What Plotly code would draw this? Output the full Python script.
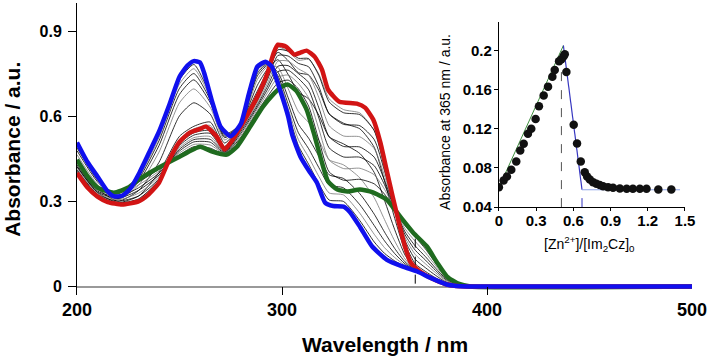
import plotly.graph_objects as go

# ---- main spectra (wavelength in nm, absorbance in a.u.) ----
BLUE_WL = [200, 205, 210, 215, 218, 222, 226, 230, 235, 240, 245, 250, 254, 257, 260, 262, 266, 270, 275,
           280, 284, 288, 292, 295, 299, 303, 305, 309, 313, 317, 321, 325, 330, 333, 338, 344, 351, 359,
           366, 372, 380, 385, 390, 500]
BLUE_ABS = [0.508, 0.44, 0.388, 0.335, 0.318, 0.32, 0.345, 0.395, 0.47, 0.546, 0.64, 0.74, 0.78, 0.795, 0.79,
            0.754, 0.65, 0.564, 0.53, 0.575, 0.684, 0.776, 0.793, 0.776, 0.694, 0.60, 0.535, 0.458, 0.41,
            0.367, 0.296, 0.284, 0.282, 0.264, 0.211, 0.141, 0.095, 0.07, 0.053, 0.032, 0.008, 0.002, 0.0, 0.0]

RED_WL = [200, 205, 210, 215, 222, 230, 235, 240, 245, 250, 255, 260, 263, 268, 272, 276, 281, 288, 293, 296,
          298, 302, 306, 309, 312, 316, 319.5, 322.5, 328, 336.5, 340.5, 344.5, 348, 351, 354, 357.5, 360,
          362.5, 366, 370, 375, 380, 385, 390, 500]
RED_ABS = [0.40, 0.35, 0.317, 0.298, 0.289, 0.30, 0.325, 0.366, 0.447, 0.51, 0.543, 0.556, 0.564, 0.53, 0.483,
           0.518, 0.578, 0.67, 0.754, 0.825, 0.853, 0.846, 0.818, 0.825, 0.832, 0.81, 0.765, 0.694, 0.652,
           0.645, 0.631, 0.589, 0.508, 0.412, 0.317, 0.211, 0.141, 0.088, 0.06, 0.04, 0.022, 0.008, 0.002,
           0.0, 0.0]

GREEN_WL = [200, 205, 210, 218, 225, 230, 240, 250, 260, 266, 273, 278, 284.5, 290.7, 295.6, 300, 303, 307,
            312, 316, 319.5, 322.5, 327, 332, 338, 344, 351, 357.6, 364, 370.7, 375.6, 380.5, 386, 392, 500]
GREEN_ABS = [0.447, 0.39, 0.349, 0.331, 0.349, 0.377, 0.42, 0.458, 0.493, 0.476, 0.465, 0.493, 0.564, 0.634,
             0.677, 0.705, 0.712, 0.69, 0.624, 0.529, 0.437, 0.37, 0.342, 0.335, 0.342, 0.333, 0.307, 0.247,
             0.19, 0.141, 0.085, 0.035, 0.01, 0.0, 0.0]

# intermediate titration spectra, all on one wavelength grid
GRID_WL = [200, 210, 220, 230, 240, 250, 257, 265, 272, 280, 288, 293, 298, 303, 308, 313, 318, 323, 330,
           338, 345, 350, 355, 360, 365, 370, 375, 380, 390, 500]
# first stage (0 -> 0.5 eq)
STAGE1 = [
    [0.503, 0.384, 0.317, 0.390, 0.537, 0.729, 0.783, 0.674, 0.537, 0.575, 0.765, 0.788, 0.727, 0.612, 0.497,
     0.431, 0.362, 0.305, 0.300, 0.232, 0.157, 0.117, 0.090, 0.071, 0.056, 0.040, 0.022, 0.008, 0.0, 0.0],
    [0.496, 0.380, 0.315, 0.385, 0.526, 0.715, 0.768, 0.667, 0.534, 0.575, 0.759, 0.786, 0.735, 0.627, 0.518,
     0.456, 0.388, 0.330, 0.323, 0.258, 0.184, 0.137, 0.102, 0.075, 0.056, 0.040, 0.022, 0.008, 0.0, 0.0],
    [0.489, 0.375, 0.313, 0.378, 0.514, 0.699, 0.751, 0.658, 0.530, 0.575, 0.752, 0.784, 0.744, 0.644, 0.542,
     0.486, 0.419, 0.358, 0.348, 0.288, 0.215, 0.161, 0.116, 0.080, 0.057, 0.040, 0.022, 0.008, 0.0, 0.0],
    [0.479, 0.369, 0.310, 0.369, 0.497, 0.678, 0.729, 0.648, 0.525, 0.575, 0.743, 0.780, 0.756, 0.666, 0.572,
     0.523, 0.459, 0.394, 0.381, 0.327, 0.255, 0.192, 0.134, 0.087, 0.058, 0.040, 0.022, 0.008, 0.0, 0.0],
    [0.465, 0.360, 0.307, 0.357, 0.474, 0.648, 0.697, 0.632, 0.517, 0.575, 0.730, 0.776, 0.773, 0.698, 0.617,
     0.578, 0.516, 0.447, 0.429, 0.383, 0.313, 0.236, 0.160, 0.097, 0.059, 0.040, 0.022, 0.008, 0.0, 0.0],
    [0.443, 0.345, 0.301, 0.338, 0.438, 0.602, 0.648, 0.608, 0.506, 0.575, 0.710, 0.768, 0.800, 0.748, 0.685,
     0.662, 0.604, 0.528, 0.503, 0.469, 0.402, 0.304, 0.200, 0.111, 0.061, 0.040, 0.022, 0.008, 0.0, 0.0],
    [0.422, 0.331, 0.296, 0.319, 0.402, 0.530, 0.565, 0.580, 0.494, 0.575, 0.690, 0.761, 0.826, 0.797, 0.754,
     0.746, 0.692, 0.609, 0.576, 0.556, 0.491, 0.372, 0.240, 0.126, 0.063, 0.040, 0.022, 0.008, 0.0, 0.0],
    [0.408, 0.322, 0.292, 0.307, 0.379, 0.515, 0.556, 0.568, 0.487, 0.575, 0.677, 0.757, 0.844, 0.829, 0.798,
     0.801, 0.749, 0.662, 0.624, 0.612, 0.549, 0.416, 0.266, 0.136, 0.064, 0.040, 0.022, 0.008, 0.0, 0.0],
]
# second stage (0.5 -> 1.4 eq)
STAGE2 = [
    [0.406, 0.321, 0.295, 0.309, 0.373, 0.504, 0.542, 0.550, 0.481, 0.568, 0.663, 0.743, 0.835, 0.830, 0.805,
     0.804, 0.744, 0.651, 0.613, 0.606, 0.550, 0.424, 0.279, 0.151, 0.080, 0.053, 0.030, 0.012, 0.0, 0.0],
    [0.412, 0.325, 0.301, 0.319, 0.380, 0.497, 0.534, 0.540, 0.479, 0.561, 0.655, 0.731, 0.815, 0.813, 0.787,
     0.775, 0.705, 0.609, 0.572, 0.567, 0.518, 0.408, 0.278, 0.162, 0.096, 0.066, 0.039, 0.016, 0.001, 0.0],
    [0.418, 0.329, 0.306, 0.329, 0.387, 0.490, 0.525, 0.529, 0.477, 0.554, 0.647, 0.718, 0.795, 0.795, 0.768,
     0.746, 0.666, 0.567, 0.531, 0.528, 0.486, 0.391, 0.276, 0.173, 0.113, 0.080, 0.048, 0.020, 0.001, 0.0],
    [0.424, 0.333, 0.311, 0.339, 0.393, 0.484, 0.518, 0.519, 0.475, 0.548, 0.640, 0.707, 0.777, 0.779, 0.751,
     0.720, 0.630, 0.528, 0.494, 0.492, 0.456, 0.375, 0.275, 0.183, 0.128, 0.093, 0.056, 0.024, 0.002, 0.0],
    [0.429, 0.337, 0.316, 0.348, 0.400, 0.478, 0.510, 0.509, 0.472, 0.541, 0.633, 0.696, 0.758, 0.763, 0.734,
     0.694, 0.594, 0.489, 0.457, 0.456, 0.426, 0.359, 0.274, 0.193, 0.143, 0.105, 0.064, 0.028, 0.002, 0.0],
    [0.435, 0.341, 0.322, 0.358, 0.407, 0.471, 0.501, 0.499, 0.470, 0.534, 0.625, 0.684, 0.738, 0.746, 0.716,
     0.665, 0.555, 0.446, 0.416, 0.417, 0.394, 0.343, 0.273, 0.204, 0.159, 0.119, 0.073, 0.032, 0.002, 0.0],
    [0.441, 0.345, 0.327, 0.368, 0.414, 0.464, 0.493, 0.488, 0.468, 0.527, 0.617, 0.671, 0.718, 0.728, 0.697,
     0.636, 0.516, 0.404, 0.375, 0.378, 0.362, 0.326, 0.271, 0.215, 0.175, 0.132, 0.082, 0.036, 0.003, 0.0],
]

MARK_WL = [365, 365]
MARK_ABS = [0.01, 0.2]

# ---- inset: absorbance at 365 nm vs [Zn2+]/[Im2Cz]0 ----
RATIO = [0.0, 0.038, 0.065, 0.10, 0.14, 0.172, 0.20, 0.234, 0.261, 0.296, 0.323, 0.361, 0.396, 0.431, 0.45,
         0.485, 0.504, 0.522, 0.531, 0.544, 0.603, 0.630, 0.66, 0.692, 0.711, 0.733, 0.759, 0.786, 0.813,
         0.84, 0.88, 0.92, 0.975, 1.03, 1.08, 1.136, 1.19, 1.285, 1.39]
ABS365 = [0.0604, 0.0672, 0.0713, 0.0781, 0.0866, 0.0979, 0.1047, 0.1149, 0.120, 0.130, 0.143, 0.154, 0.163,
          0.173, 0.180, 0.189, 0.191, 0.194, 0.196, 0.178, 0.124, 0.105, 0.0866, 0.0757, 0.0713, 0.0683,
          0.0655, 0.0638, 0.0625, 0.0614, 0.0604, 0.0597, 0.0591, 0.0587, 0.0587, 0.0587, 0.0587, 0.058, 0.058]
FIT_UP_X = [0.0, 0.52]
FIT_UP_Y = [0.06, 0.205]
FIT_DOWN_X = [0.52, 0.67]
FIT_DOWN_Y = [0.205, 0.0577]
FIT_FLAT_X = [0.67, 1.46]
FIT_FLAT_Y = [0.0577, 0.0577]
DROP1_X = [0.504, 0.504]
DROP1_Y = [0.04, 0.19]
DROP2_X = [0.67, 0.67]
DROP2_Y = [0.04, 0.0577]

FONT = "Liberation Sans, Arial, sans-serif"

fig = go.Figure()

# thin titration spectra
for i, ys in enumerate(STAGE1 + STAGE2):
    fig.add_trace(go.Scatter(
        x=GRID_WL, y=ys, mode='lines',
        line=dict(color='#777777' if i % 3 == 1 else 'black', width=0.8, shape='spline', smoothing=0.6),
        showlegend=False, hoverinfo='skip'
    ))

fig.add_trace(go.Scatter(x=MARK_WL, y=MARK_ABS, mode='lines',
                         line=dict(color='black', width=1, dash='dash'), showlegend=False))

# bold start / middle / end spectra
for wl, ab, col in [(GREEN_WL, GREEN_ABS, '#1f6b1f'),
                    (RED_WL, RED_ABS, '#d21414'),
                    (BLUE_WL, BLUE_ABS, '#1010ee')]:
    fig.add_trace(go.Scatter(
        x=wl, y=ab, mode='lines',
        line=dict(color=col, width=4.5, shape='spline', smoothing=0.5),
        showlegend=False
    ))

# inset traces
fig.add_trace(go.Scatter(x=FIT_UP_X, y=FIT_UP_Y, mode='lines', line=dict(color='#3f8f3f', width=1),
                         xaxis='x2', yaxis='y2', showlegend=False))
fig.add_trace(go.Scatter(x=FIT_DOWN_X, y=FIT_DOWN_Y, mode='lines', line=dict(color='#3535c0', width=1.2),
                         xaxis='x2', yaxis='y2', showlegend=False))
fig.add_trace(go.Scatter(x=FIT_FLAT_X, y=FIT_FLAT_Y, mode='lines', line=dict(color='#8fa5e8', width=1),
                         xaxis='x2', yaxis='y2', showlegend=False))
fig.add_trace(go.Scatter(x=DROP1_X, y=DROP1_Y, mode='lines', line=dict(color='#555555', width=1, dash='dash'),
                         xaxis='x2', yaxis='y2', showlegend=False))
fig.add_trace(go.Scatter(x=DROP2_X, y=DROP2_Y, mode='lines', line=dict(color='#3535c0', width=1, dash='dash'),
                         xaxis='x2', yaxis='y2', showlegend=False))
fig.add_trace(go.Scatter(x=RATIO, y=ABS365, mode='markers',
                         marker=dict(color='#111111', size=8.5),
                         xaxis='x2', yaxis='y2', showlegend=False))

fig.update_layout(
    width=709, height=362,
    margin=dict(l=77, r=17, t=3, b=67),
    paper_bgcolor='white', plot_bgcolor='white',
    font=dict(family=FONT, color='black'),
    xaxis=dict(
        range=[200, 500], tickvals=[200, 300, 400, 500],
        ticks='inside', ticklen=8, tickcolor='black', tickwidth=1,
        showline=False, showgrid=False, zeroline=False,
        tickfont=dict(size=18, weight='bold'), ticklabelstandoff=2
    ),
    yaxis=dict(
        range=[-0.03, 1.0], tickvals=[0, 0.3, 0.6, 0.9],
        ticks='outside', ticklen=8, tickcolor='black', tickwidth=1,
        showline=True, linecolor='black', linewidth=1,
        showgrid=False, zeroline=True, zerolinecolor='#999999', zerolinewidth=1.5,
        tickfont=dict(size=16, weight='bold'), ticklabelstandoff=3
    ),
    xaxis2=dict(
        domain=[0.686, 0.9886], anchor='y2', range=[0, 1.5],
        tickvals=[0, 0.3, 0.6, 0.9, 1.2, 1.5],
        ticks='outside', ticklen=3, tickcolor='black',
        showline=True, linecolor='black', linewidth=1,
        showgrid=False, zeroline=False,
        tickfont=dict(size=15, weight='bold'), ticklabelstandoff=-3
    ),
    yaxis2=dict(
        domain=[0.301, 0.935], anchor='x2', range=[0.04, 0.229],
        tickvals=[0.04, 0.08, 0.12, 0.16, 0.2],
        ticks='outside', ticklen=4, tickcolor='black',
        showline=True, linecolor='black', linewidth=1,
        showgrid=False, zeroline=False,
        tickfont=dict(size=15, weight='bold'), ticklabelstandoff=-1
    ),
    annotations=[
        dict(text='Absorbance / a.u.', xref='paper', yref='paper', x=-0.106, y=0.5,
             xanchor='center', yanchor='middle', textangle=-90, showarrow=False,
             font=dict(size=21, weight='bold')),
        dict(text='Wavelength / nm', xref='paper', yref='paper', x=0.5, y=-0.171,
             xanchor='center', yanchor='middle', showarrow=False,
             font=dict(size=21, weight='bold')),
        dict(text='Absorbance at 365 nm / a.u.', xref='paper', yref='paper', x=0.598, y=0.592,
             xanchor='center', yanchor='middle', textangle=-90, showarrow=False,
             font=dict(size=14)),
        dict(text='[Zn<sup>2+</sup>]/[Im<sub>2</sub>Cz]<sub>0</sub>', xref='paper', yref='paper',
             x=0.834, y=0.175, xanchor='center', yanchor='middle', showarrow=False,
             font=dict(size=14)),
    ]
)

# the page body has a default margin; drop it so the figure sits at the window corner
fig.write_html("out.html", config={'displayModeBar': False},
               post_script="document.body.style.margin='0';")
